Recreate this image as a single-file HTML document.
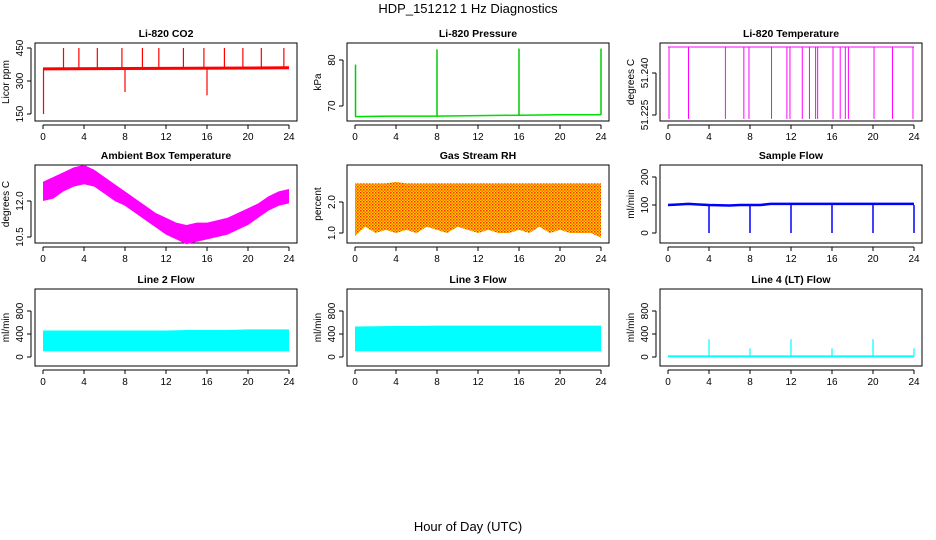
<!DOCTYPE html>
<html><head><meta charset="utf-8">
<style>
body{margin:0;background:#fff;}
svg{display:block;font-family:"Liberation Sans",Arial,sans-serif;}
</style></head>
<body>
<svg id="c" width="936" height="540" viewBox="0 0 936 540">
<defs>
<pattern id="rhp" width="3" height="3" patternUnits="userSpaceOnUse">
<rect width="3" height="3" fill="#ffd400"/>
<rect width="1.5" height="1.5" fill="#ff2a00"/>
<rect x="1.5" y="1.5" width="1.5" height="1.5" fill="#ff6a00"/>
</pattern>
</defs>
<text x="468" y="13" font-size="13" text-anchor="middle">HDP_151212  1 Hz Diagnostics</text>
<text x="468" y="531" font-size="13" text-anchor="middle">Hour of Day (UTC)</text>
</svg>
<script>
// ---- data ----
const xTicks=[0,4,8,12,16,20,24];
const co2Base=355;
const co2SpikeHours=[2,3.5,5.3,7.7,9.7,11.3,13.7,15.7,17.7,19.5,21.3,23.5];
const co2SpikeVals=[450,450,450,450,450,450,450,450,450,450,450,450];
const co2DipHours=[0.05,8,16];
const co2DipVals=[150,250,235];
const presBase=[67.7,67.8,67.8,67.9,68.0,68.1,68.1];
const presSpikeHours=[0.05,8,16,24];
const presSpikeVals=[79,82.3,82.5,82.5];
const tempHigh=51.2493;
const tempLow=51.2236;
const tempDropHours=[0.1,2,5.6,7.4,7.9,10.1,11.6,11.9,13.1,13.8,14.4,14.6,16.1,16.8,17.3,17.6,20.1,21.9,23.9];
const ambHours=[0,1,2,3,4,5,6,7,8,9,10,11,12,13,14,15,16,17,18,19,20,21,22,23,24];
const ambLow=[12.0,12.1,12.4,12.6,12.7,12.6,12.3,12.0,11.8,11.5,11.2,10.9,10.6,10.4,10.2,10.3,10.4,10.5,10.6,10.8,11.0,11.3,11.6,11.8,11.9];
const ambHigh=[12.8,13.0,13.2,13.4,13.5,13.3,13.0,12.7,12.4,12.1,11.8,11.5,11.3,11.1,11.0,11.1,11.1,11.2,11.3,11.5,11.7,11.9,12.2,12.4,12.5];
const rhLow=[0.9,1.2,1.0,1.1,1.0,1.1,1.0,1.2,1.1,1.0,1.2,1.1,1.0,1.1,1.0,1.0,1.1,1.0,1.2,1.0,1.1,1.0,1.0,1.0,0.85];
const rhHigh=[2.6,2.6,2.6,2.6,2.65,2.6,2.6,2.6,2.6,2.6,2.6,2.6,2.6,2.6,2.6,2.6,2.6,2.6,2.6,2.6,2.6,2.6,2.6,2.6,2.6];
const sampleBase=[100,102,104,102,100,99,98,100,100,100,104,104,104,104,104,104,104,104,104,104,104,104,104,104,104];
const sampleDropHours=[4,8,12,16,20,24];
const l2Low=100;
const l2High=[460,460,460,460,460,460,460,470,470,470,480,480,480];
const l3Low=100;
const l3High=[530,535,540,540,545,545,545,545,545,545,545,545,545];
const l4Base=10;
const l4SpikeHours=[4,8,12,16,20,24];
const l4SpikeVals=[310,150,310,150,310,150];

// ---- layout helpers ----
const svg=document.getElementById('c');
const NS='http://www.w3.org/2000/svg';
function mk(tag,attrs,parent){const e=document.createElementNS(NS,tag);for(const k in attrs)e.setAttribute(k,attrs[k]);(parent||svg).appendChild(e);return e;}
const cols=[{bx:35,x0:43},{bx:347,x0:355},{bx:660,x0:668}];
const rows=[{t:43,b:121},{t:165,b:243},{t:289,b:366}];
function panel(ci,ri,title,ylabel,v1,p1,v2,p2,yticks,ylabs,name){
  const c=cols[ci],r=rows[ri];
  const g=mk('g',{});
  
  
  const X=h=>c.x0+h*246/24;
  const Y=v=>p1+(v-v1)*(p2-p1)/(v2-v1);
  const bx=mk('rect',{x:c.bx,y:r.t,width:262,height:r.b-r.t,fill:'none',stroke:'#000','stroke-width':1},g);
  
  const tt=mk('text',{x:c.bx+131,y:r.t-6,'font-size':10.5,'font-weight':'bold','text-anchor':'middle'},g);tt.textContent=title;
  
  mk('line',{x1:X(0),x2:X(24),y1:r.b+4,y2:r.b+4,stroke:'#000'},g);
  xTicks.forEach(h=>{mk('line',{x1:X(h),x2:X(h),y1:r.b+4,y2:r.b+8,stroke:'#000'},g);
    const t=mk('text',{x:X(h),y:r.b+19,'font-size':10,'text-anchor':'middle'},g);t.textContent=h;
    });
  mk('line',{x1:c.bx-4,x2:c.bx-4,y1:Y(yticks[0]),y2:Y(yticks[yticks.length-1]),stroke:'#000'},g);
  yticks.forEach((v,i)=>{mk('line',{x1:c.bx-8,x2:c.bx-4,y1:Y(v),y2:Y(v),stroke:'#000'},g);
    const t=mk('text',{x:c.bx-12,y:Y(v),'font-size':10,'text-anchor':'middle',transform:`rotate(-90 ${c.bx-12} ${Y(v)})`},g);t.textContent=ylabs[i];
    });
  const yl=mk('text',{x:c.bx-26,y:(r.t+r.b)/2,'font-size':10,'text-anchor':'middle',transform:`rotate(-90 ${c.bx-26} ${(r.t+r.b)/2})`},g);yl.textContent=ylabel;
  
  return {g,X,Y};
}
function line(p,pts,color,w,name){const e=mk('polyline',{points:pts.map(q=>p.X(q[0])+','+p.Y(q[1])).join(' '),fill:'none',stroke:color,'stroke-width':w||1},p.g);
  return e;}
function band(p,hs,lo,hi,fill,name){const pts=hs.map((h,i)=>[h,hi[i]]).concat(hs.map((h,i)=>[h,lo[i]]).reverse());
  const e=mk('polygon',{points:pts.map(q=>p.X(q[0])+','+p.Y(q[1])).join(' '),fill:fill},p.g);
  return e;}

// CO2
let p=panel(0,0,'Li-820 CO2','Licor ppm',150,114,450,48,[150,300,450],['150','300','450'],'co2');
line(p,[[0,co2Base],[24,co2Base+5]],'#ff0000',3,'co2-line');
co2SpikeHours.forEach((h,i)=>line(p,[[h,co2Base],[h,co2SpikeVals[i]]],'#ff0000',1.2,'co2-spike'));
co2DipHours.forEach((h,i)=>line(p,[[h,co2Base],[h,co2DipVals[i]]],'#ff0000',1.2,'co2-dip'));
// Pressure
p=panel(1,0,'Li-820 Pressure','kPa',70,106,80,60,[70,80],['70','80'],'pressure');
line(p,presBase.map((v,i)=>[i*4,v]),'#00dd00',1.5,'pressure-line');
presSpikeHours.forEach((h,i)=>line(p,[[h,presBase[Math.min(6,Math.round(h/4))]],[h,presSpikeVals[i]]],'#00cc00',1.5,'pressure-spike'));
// Temperature
p=panel(2,0,'Li-820 Temperature','degrees C',51.225,115,51.240,73,[51.225,51.240],['51.225','51.240'],'licor-temp');
line(p,[[0,tempHigh],[24,tempHigh]],'#ff00ff',1,'temp-line');
tempDropHours.forEach(h=>line(p,[[h,tempHigh],[h,tempLow]],'#ff00ff',1,'temp-drop'));
// Ambient
p=panel(0,1,'Ambient Box Temperature','degrees C',10.5,237,12.0,201,[10.5,12.0],['10.5','12.0'],'ambient');
band(p,ambHours,ambLow,ambHigh,'#ff00ff','ambient-band');
// RH
p=panel(1,1,'Gas Stream RH','percent',1.0,233,2.0,202,[1.0,2.0],['1.0','2.0'],'rh');
band(p,ambHours,rhLow,rhHigh,'url(#rhp)','rh-band');
// Sample flow
p=panel(2,1,'Sample Flow','ml/min',0,233,200,177,[0,100,200],['0','100','200'],'sample-flow');
line(p,sampleBase.map((v,i)=>[i,v]),'#0000ff',2.5,'sample-flow-line');
sampleDropHours.forEach(h=>line(p,[[h,100],[h,0]],'#0000ff',1.5,'sample-flow-drop'));
// Line 2
p=panel(0,2,'Line 2 Flow','ml/min',0,357,400,334,[0,400,800],['0','400','800'],'line2');
band(p,l2High.map((v,i)=>i*2),l2High.map(()=>l2Low),l2High,'#00ffff','line2-band');
// Line 3
p=panel(1,2,'Line 3 Flow','ml/min',0,357,400,334,[0,400,800],['0','400','800'],'line3');
band(p,l3High.map((v,i)=>i*2),l3High.map(()=>l3Low),l3High,'#00ffff','line3-band');
// Line 4
p=panel(2,2,'Line 4 (LT) Flow','ml/min',0,357,400,334,[0,400,800],['0','400','800'],'line4');
line(p,[[0,l4Base],[24,l4Base]],'#00ffff',2,'line4-line');
l4SpikeHours.forEach((h,i)=>line(p,[[h,l4Base],[h,l4SpikeVals[i]]],'#00ffff',1.2,'line4-spike'));
</script>
</body></html>
